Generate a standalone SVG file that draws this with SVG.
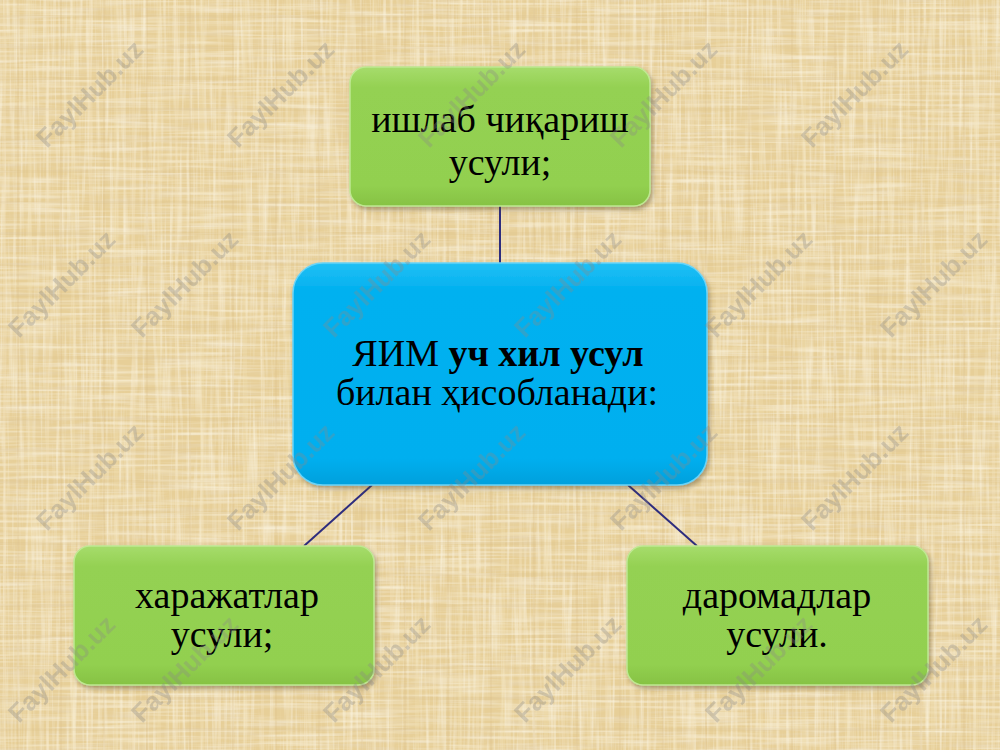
<svg xmlns="http://www.w3.org/2000/svg" width="1000" height="750" viewBox="0 0 1000 750">
  <defs>
    <pattern id="weave" x="0" y="0" width="43" height="31" patternUnits="userSpaceOnUse">
      <rect x="3" y="0" width="3" height="31" fill="#F5E6C0" opacity="0.3"/>
      <rect x="17" y="0" width="2" height="31" fill="#D6BB83" opacity="0.2"/>
      <rect x="28" y="0" width="4" height="31" fill="#F3E2B6" opacity="0.25"/>
      <rect x="0" y="6" width="43" height="2" fill="#F4E4BC" opacity="0.25"/>
      <rect x="0" y="15" width="43" height="3" fill="#D8BD85" opacity="0.18"/>
      <rect x="0" y="24" width="43" height="2" fill="#F6E8C6" opacity="0.22"/>
    </pattern>
    <filter id="fibers" x="0" y="0" width="100%" height="100%" filterUnits="userSpaceOnUse">
      <feTurbulence type="fractalNoise" baseFrequency="0.3 0.012" numOctaves="2" seed="3" result="v"/>
      <feColorMatrix in="v" type="matrix" values="0 0 0 0 0.96  0 0 0 0 0.90  0 0 0 0 0.74  0 0 0 1.6 -0.72" result="vl"/>
      <feTurbulence type="fractalNoise" baseFrequency="0.012 0.3" numOctaves="2" seed="7" result="h"/>
      <feColorMatrix in="h" type="matrix" values="0 0 0 0 0.96  0 0 0 0 0.90  0 0 0 0 0.74  0 0 0 1.6 -0.72" result="hl"/>
      <feTurbulence type="fractalNoise" baseFrequency="0.02 0.25" numOctaves="2" seed="11" result="h2"/>
      <feColorMatrix in="h2" type="matrix" values="0 0 0 0 0.80  0 0 0 0 0.67  0 0 0 0 0.44  0 0 0 1.8 -0.8" result="hd"/>
      <feMerge><feMergeNode in="hd"/><feMergeNode in="hl"/><feMergeNode in="vl"/></feMerge>
    </filter>
    <linearGradient id="gGreen" x1="0" y1="0" x2="0" y2="1">
      <stop offset="0" stop-color="#A6DC6C"/>
      <stop offset="0.15" stop-color="#94D152"/>
      <stop offset="0.85" stop-color="#92D050"/>
      <stop offset="1" stop-color="#86C243"/>
    </linearGradient>
    <linearGradient id="gBlue" x1="0" y1="0" x2="0" y2="1">
      <stop offset="0" stop-color="#22C0F4"/>
      <stop offset="0.12" stop-color="#02B1F0"/>
      <stop offset="0.88" stop-color="#00AFEF"/>
      <stop offset="1" stop-color="#00A0DC"/>
    </linearGradient>
    <filter id="shadow" x="-10%" y="-10%" width="125%" height="130%">
      <feDropShadow dx="2" dy="3" stdDeviation="2.5" flood-color="#5a4a20" flood-opacity="0.45"/>
    </filter>
    <style>
      .green { fill: url(#gGreen); stroke: #BFE892; stroke-width: 1.5; filter: url(#shadow); }
      .blue { fill: url(#gBlue); stroke: #6AD4F8; stroke-width: 1.5; filter: url(#shadow); }
      .lbl { font-family: "Liberation Serif", "Times New Roman", serif; font-size: 38px; fill: #000; text-anchor: middle; }
      .conn { stroke: #2E2D7E; stroke-width: 2; fill: none; }
      .wm { font-family: "Liberation Sans", Arial, sans-serif; font-weight: bold; font-size: 26px; fill: #8C8A86; opacity: 0.33; text-anchor: middle; }
    </style>
  </defs>

  <rect x="0" y="0" width="1000" height="750" fill="#E7CF98"/>
  <rect x="0" y="0" width="1000" height="750" filter="url(#fibers)"/>
  <rect x="0" y="0" width="1000" height="750" fill="url(#weave)"/>

  <g id="connectors">
    <line class="conn" x1="500" y1="206" x2="500" y2="264"/>
    <line class="conn" x1="372" y1="485" x2="304" y2="546"/>
    <line class="conn" x1="628" y1="485" x2="697" y2="546"/>
  </g>

  <g id="node-production">
    <rect class="green" x="350" y="67" width="300" height="139" rx="16" ry="16"/>
    <text class="lbl" x="500" y="132">ишлаб чиқариш</text>
    <text class="lbl" x="500" y="175">усули;</text>
  </g>

  <g id="node-center">
    <rect class="blue" x="293" y="263" width="414" height="222" rx="30" ry="30"/>
    <text class="lbl" x="498" y="366">ЯИМ <tspan font-weight="bold">уч хил усул</tspan></text>
    <text class="lbl" x="497" y="405">билан ҳисобланади:</text>
  </g>

  <g id="node-expenses">
    <rect class="green" x="74" y="546" width="300" height="139" rx="16" ry="16"/>
    <text class="lbl" x="227" y="608">харажатлар</text>
    <text class="lbl" x="222" y="647">усули;</text>
  </g>

  <g id="node-income">
    <rect class="green" x="627" y="546" width="301" height="139" rx="16" ry="16"/>
    <text class="lbl" x="777" y="608">даромадлар</text>
    <text class="lbl" x="777" y="647">усули.</text>
  </g>

  <g id="watermarks">
    <text class="wm" transform="translate(96,100) rotate(-45)">FaylHub.uz</text>
    <text class="wm" transform="translate(287,100) rotate(-45)">FaylHub.uz</text>
    <text class="wm" transform="translate(478,100) rotate(-45)">FaylHub.uz</text>
    <text class="wm" transform="translate(670,100) rotate(-45)">FaylHub.uz</text>
    <text class="wm" transform="translate(861,100) rotate(-45)">FaylHub.uz</text>
    <text class="wm" transform="translate(68,290) rotate(-45)">FaylHub.uz</text>
    <text class="wm" transform="translate(191,290) rotate(-45)">FaylHub.uz</text>
    <text class="wm" transform="translate(383,290) rotate(-45)">FaylHub.uz</text>
    <text class="wm" transform="translate(574,290) rotate(-45)">FaylHub.uz</text>
    <text class="wm" transform="translate(765,290) rotate(-45)">FaylHub.uz</text>
    <text class="wm" transform="translate(940,290) rotate(-45)">FaylHub.uz</text>
    <text class="wm" transform="translate(96,483) rotate(-45)">FaylHub.uz</text>
    <text class="wm" transform="translate(287,483) rotate(-45)">FaylHub.uz</text>
    <text class="wm" transform="translate(478,483) rotate(-45)">FaylHub.uz</text>
    <text class="wm" transform="translate(670,483) rotate(-45)">FaylHub.uz</text>
    <text class="wm" transform="translate(861,483) rotate(-45)">FaylHub.uz</text>
    <text class="wm" transform="translate(68,675) rotate(-45)">FaylHub.uz</text>
    <text class="wm" transform="translate(191,675) rotate(-45)">FaylHub.uz</text>
    <text class="wm" transform="translate(383,675) rotate(-45)">FaylHub.uz</text>
    <text class="wm" transform="translate(574,675) rotate(-45)">FaylHub.uz</text>
    <text class="wm" transform="translate(765,675) rotate(-45)">FaylHub.uz</text>
    <text class="wm" transform="translate(940,675) rotate(-45)">FaylHub.uz</text>
  </g>
</svg>
